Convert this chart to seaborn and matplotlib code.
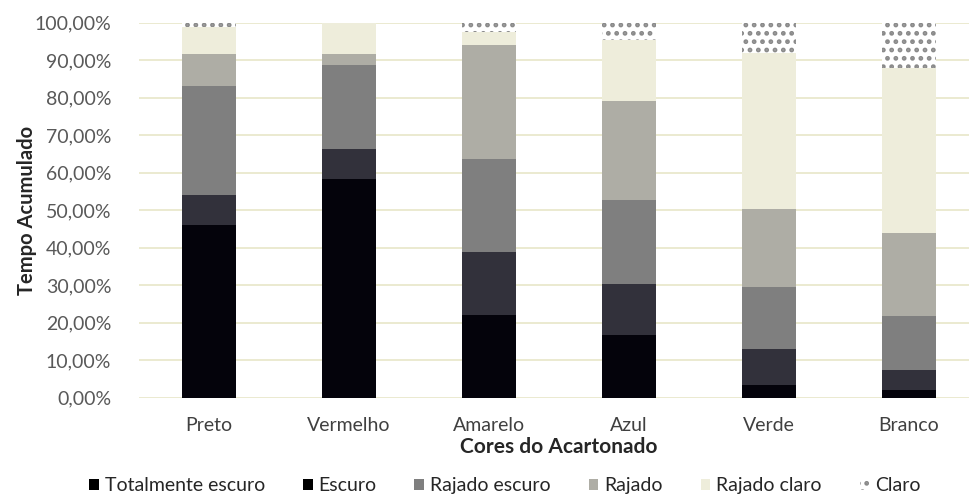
import numpy as np
import pandas as pd
import matplotlib
matplotlib.use("Agg")
import matplotlib.pyplot as plt
from matplotlib.patches import Patch
from matplotlib.ticker import FuncFormatter
import seaborn as sns

categories = ["Preto", "Vermelho", "Amarelo", "Azul", "Verde", "Branco"]
series_names = ["Totalmente escuro", "Escuro", "Rajado escuro", "Rajado", "Rajado claro", "Claro"]
totalmente_escuro = [46.0, 58.2, 22.0, 16.7, 3.4, 2.1]
escuro = [8.0, 8.1, 16.8, 13.5, 9.6, 5.3]
rajado_escuro = [29.1, 22.4, 24.8, 22.5, 16.4, 14.4]
rajado = [8.6, 2.9, 30.5, 26.4, 20.8, 22.0]
rajado_claro = [7.2, 8.4, 3.5, 16.3, 41.6, 44.2]
claro = [1.1, 0.0, 2.4, 4.6, 8.2, 12.0]
y_ticks = [0, 10, 20, 30, 40, 50, 60, 70, 80, 90, 100]

series = [totalmente_escuro, escuro, rajado_escuro, rajado, rajado_claro, claro]
colors = ["#04030b", "#32313b", "#7f7f7f", "#aeada5", "#eeeddb", "#ffffff"]

sns.set_theme(style="white")
plt.rcParams["font.family"] = ["Lato", "DejaVu Sans"]
plt.rcParams["hatch.linewidth"] = 2.2

fig = plt.figure(figsize=(9.69, 4.98), dpi=100)
ax = fig.add_axes([139 / 969, 1 - 397.7 / 498, 840 / 969, 375 / 498])

arr = np.array(series)
cum = np.cumsum(arr, axis=0)
for i in reversed(range(len(series))):
    df = pd.DataFrame({"cat": categories, "val": cum[i]})
    kws = dict(linewidth=0)
    if series_names[i] == "Claro":
        kws = dict(hatch="..", edgecolor="#8a8a8a", linewidth=0)
    sns.barplot(data=df, x="cat", y="val", color=colors[i], saturation=1,
                width=0.39, ax=ax, order=categories, **kws)

ax.set_xlim(-0.5, 5.5)
ax.set_ylim(0, 100)
ax.set_yticks(y_ticks)
ax.yaxis.set_major_formatter(FuncFormatter(lambda v, p: ("%.2f%%" % v).replace(".", ",")))
ax.grid(axis="y", color="#ebead0", linewidth=1.4)
ax.grid(axis="x", visible=False)
ax.set_axisbelow(True)
for s in ax.spines.values():
    s.set_visible(False)
ax.tick_params(axis="both", length=0)
ax.tick_params(axis="y", labelsize=14, labelcolor="#595959", pad=20)
ax.tick_params(axis="x", labelsize=14, labelcolor="#404040", pad=14)

ax.set_xlabel("Cores do Acartonado", fontsize=15, fontweight="bold", color="#262626", labelpad=2)
ax.set_ylabel("Tempo Acumulado", fontsize=14.5, fontweight="bold", color="#262626", labelpad=-2)

handles = []
for name, c in zip(series_names, colors):
    if name == "Claro":
        handles.append(Patch(facecolor="white", edgecolor="#8a8a8a", hatch="..", linewidth=0, label=name))
    else:
        handles.append(Patch(facecolor=c, edgecolor="none", label=name))
handles[0] = Patch(facecolor="#000000", edgecolor="none", label=series_names[0])
handles[1] = Patch(facecolor="#000000", edgecolor="none", label=series_names[1])
leg = fig.legend(handles=handles, loc="center", bbox_to_anchor=(0.521, 0.025), ncol=6,
                 frameon=False, fontsize=14, handlelength=0.5, handleheight=0.5,
                 handletextpad=0.3, columnspacing=1.95)
for t in leg.get_texts():
    t.set_color("#262626")

fig.savefig("out.png", dpi=100)
